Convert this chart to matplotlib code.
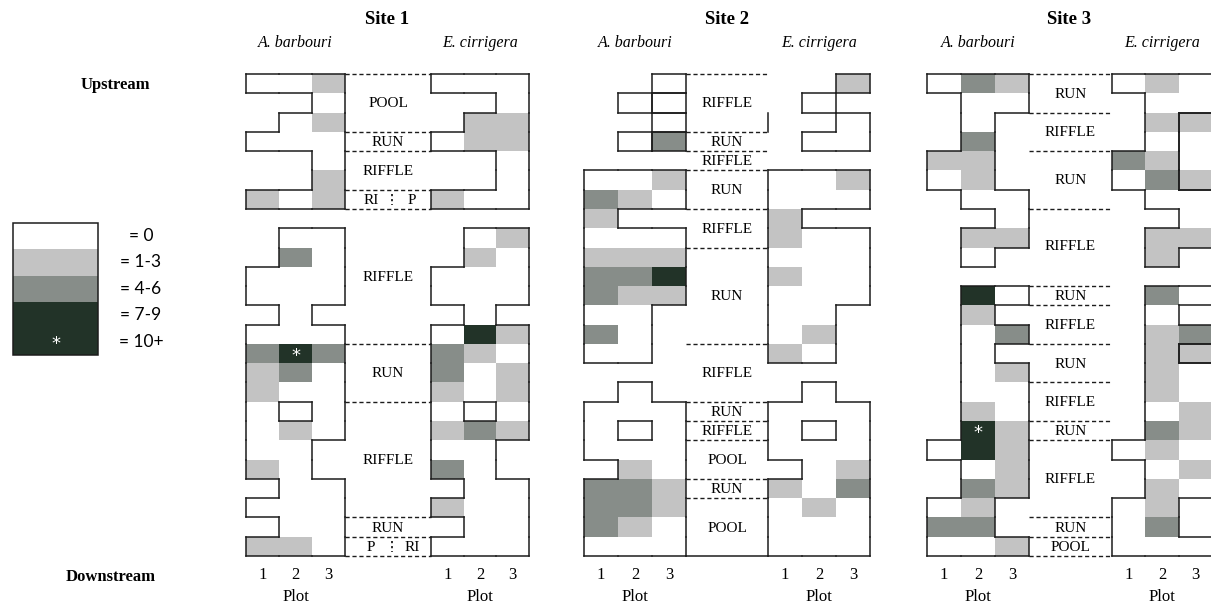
import matplotlib.pyplot as plt
from matplotlib.collections import LineCollection
from matplotlib.patches import Rectangle

SERIF = 'Liberation Serif'
INK = '#1c1c1c'

# abundance classes and their shading
LEVELS = ['= 0', '= 1-3', '= 4-6', '= 7-9', '= 10+']
COLORS = ['#ffffff', '#c3c3c3', '#878d89', '#223328', '#223328']

# one string per transect row (upstream -> downstream), one char per plot 1..3
# '.' = no plot surveyed, digit = abundance class index,
# letter a..e = same classes 0..4 but fenced off from the neighbouring plots
site1_barbouri = ['001', '..0', '.01', '000', '..0', '..1', '101', '...',
                  '.00', '.20', '000', '000', '.0.', '000', '242', '120',
                  '100', '0.0', '010', '00.', '10.', '.00', '000', '.00', '110']
site1_cirrigera = ['000', '..0', '.11', '011', '..0', '..0', '100', '...',
                   '.01', '.10', '000', '000', '.0.', '031', '210', '201',
                   '101', '0.0', '121', '00.', '20.', '.00', '100', '.00', '000']
site2_barbouri = ['..0', '.00', '..0', '.02', '...', '001', '210', '1..',
                  '000', '111', '223', '211', '00.', '20.', '00.', '...',
                  '.0.', '000', '0.0', '000', '.10', '221', '221', '210', '000']
site2_cirrigera = ['..1', '.0.', '..0', '.00', '...', '001', '000', '1..',
                   '100', '000', '100', '000', '00.', '01.', '10.', '...',
                   '.0.', '000', '0.0', '000', '.01', '102', '010', '000', '000']
site3_barbouri = ['021', '.00', '.0.', '.2.', '11.', '01.', '.00', '..0',
                  '.11', '.0.', '...', '.30', '.1.', '.02', '.0.', '.01',
                  '.00', '.10', '.41', '031', '.01', '.21', '01.', '22.', '001']
site3_cirrigera = ['010', '.00', '.1b', '.0a', '21a', '02b', '.00', '..0',
                   '.11', '.1.', '...', '.20', '.0.', '.12', '.1b', '.10',
                   '.10', '.01', '.21', '010', '.01', '.10', '01.', '02.', '000']

# habitat units along the channel: (row position, label)
site1_habitat = [(1.5, 'POOL'), (3.5, 'RUN'), (5.0, 'RIFFLE'), (10.5, 'RIFFLE'),
                 (15.5, 'RUN'), (20.0, 'RIFFLE'), (23.5, 'RUN')]
site1_split = [(6.5, 'RI', 'P'), (24.5, 'P', 'RI')]
site1_breaks = [0, 3, 4, 6, 7, 14, 17, 23, 24, 25]

site2_habitat = [(1.5, 'RIFFLE'), (3.5, 'RUN'), (4.5, 'RIFFLE'), (6.0, 'RUN'),
                 (8.0, 'RIFFLE'), (11.5, 'RUN'), (15.5, 'RIFFLE'), (17.5, 'RUN'),
                 (18.5, 'RIFFLE'), (20.0, 'POOL'), (21.5, 'RUN'), (23.5, 'POOL')]
site2_breaks = [0, 3, 4, 5, 7, 9, 14, 17, 18, 19, 21, 22]

site3_habitat = [(1.0, 'RUN'), (3.0, 'RIFFLE'), (5.45, 'RUN'), (8.9, 'RIFFLE'),
                 (11.5, 'RUN'), (13.0, 'RIFFLE'), (15.0, 'RUN'), (17.0, 'RIFFLE'),
                 (18.5, 'RUN'), (21.0, 'RIFFLE'), (23.5, 'RUN'), (24.5, 'POOL')]
site3_breaks = [0, 2, 4, 7, 11, 12, 14, 16, 18, 19, 23, 24, 25]

# layout (pixels)
ROW0, RH = 74.0, 19.28


def row_y(r):
    return ROW0 + r * RH


def cell(grid, r, c):
    if 0 <= r < len(grid) and 0 <= c < 3:
        return grid[r][c]
    return '.'


def region(ch):
    if ch == '.':
        return None
    return 'main' if ch.isdigit() else 'fenced'


def level(ch):
    return int(ch) if ch.isdigit() else 'abcde'.index(ch)


def draw_panel(ax, grid, x0, cw, boxed=()):
    segs = []
    for r, row in enumerate(grid):
        for c, ch in enumerate(row):
            if ch == '.':
                continue
            v = level(ch)
            x, y = x0 + c * cw, row_y(r)
            ax.add_patch(Rectangle((x, y), cw, RH, facecolor=COLORS[v],
                                   edgecolor='none'))
            if v == 4:
                ax.text(x + cw / 2, y + RH / 2 + 2, '*', color='white', ha='center',
                        va='center', fontsize=13, fontfamily='DejaVu Sans')
            full = r in boxed
            me = region(ch)
            if full or region(cell(grid, r - 1, c)) != me:
                segs.append([(x, y), (x + cw, y)])
            if full or region(cell(grid, r + 1, c)) != me:
                segs.append([(x, y + RH), (x + cw, y + RH)])
            if full or region(cell(grid, r, c - 1)) != me:
                segs.append([(x, y), (x, y + RH)])
            if full or region(cell(grid, r, c + 1)) != me:
                segs.append([(x + cw, y), (x + cw, y + RH)])
    ax.add_collection(LineCollection(segs, colors=INK, linewidths=1.1,
                                     capstyle='projecting'))
    for c in range(3):
        ax.text(x0 + (c + 0.5) * cw, 575, str(c + 1), ha='center', va='center',
                fontsize=12, fontfamily=SERIF)
    ax.text(x0 + 1.5 * cw, 597, 'Plot', ha='center', va='center', fontsize=12,
            fontfamily=SERIF)


def draw_channel(ax, xa, xb, breaks, labels, split=()):
    for r in breaks:
        ax.plot([xa, xb], [row_y(r), row_y(r)], color=INK, lw=1.0, ls=(0, (3, 2)))
    xm = (xa + xb) / 2
    for r, txt in labels:
        ax.text(xm, row_y(r) + 1, txt, ha='center', va='center', fontsize=11,
                fontfamily=SERIF)
    for r, left, right in split:
        xs = xm + 4
        ax.plot([xs, xs], [row_y(r - 0.5) + 4, row_y(r + 0.5) - 4], color=INK,
                lw=1.3, ls=(0, (1.2, 1.6)))
        ax.text(xs - 21, row_y(r) + 1, left, ha='center', va='center', fontsize=11,
                fontfamily=SERIF)
        ax.text(xs + 20, row_y(r) + 1, right, ha='center', va='center', fontsize=11,
                fontfamily=SERIF)


fig = plt.figure(figsize=(12.11, 6.05), dpi=100)
ax = fig.add_axes([0, 0, 1, 1])
ax.set_xlim(0, 1211)
ax.set_ylim(605, 0)
ax.axis('off')

sites = [
    ('Site 1', site1_barbouri, site1_cirrigera, (246, 33.0), (431, 32.7),
     site1_breaks, site1_habitat, site1_split, ()),
    ('Site 2', site2_barbouri, site2_cirrigera, (584, 34.0), (768, 34.0),
     site2_breaks, site2_habitat, (), (0, 1, 2, 3)),
    ('Site 3', site3_barbouri, site3_cirrigera, (927, 34.0), (1112, 33.3),
     site3_breaks, site3_habitat, (), ()),
]

for name, ab, ec, (xa, cwa), (xe, cwe), breaks, hab, split, boxed in sites:
    draw_panel(ax, ab, xa, cwa, boxed)
    draw_panel(ax, ec, xe, cwe)
    draw_channel(ax, xa + 3 * cwa, xe, breaks, hab, split)
    ax.text((xa + xe + 3 * cwe) / 2, 20, name, ha='center', va='center',
            fontsize=13.5, fontweight='bold', fontfamily=SERIF)
    ax.text(xa + 1.5 * cwa, 43, 'A. barbouri', ha='center', va='center',
            fontsize=11.5, fontstyle='italic', fontfamily=SERIF)
    ax.text(xe + 1.5 * cwe, 43, 'E. cirrigera', ha='center', va='center',
            fontsize=11.5, fontstyle='italic', fontfamily=SERIF)
    if name == 'Site 2':
        # bottom of the pool reach is closed off and a short bank line near the top
        ax.plot([xa + 3 * cwa, xe], [row_y(25), row_y(25)], color=INK, lw=1.1)
        ax.plot([xe, xe], [row_y(2), row_y(3)], color=INK, lw=1.1)

ax.text(115, 85, 'Upstream', ha='center', va='center', fontsize=12,
        fontweight='bold', fontfamily=SERIF)
ax.text(111, 577, 'Downstream', ha='center', va='center', fontsize=12,
        fontweight='bold', fontfamily=SERIF)

# legend key
lx, ly, lw_, lh = 12.7, 222.7, 85.6, 26.5
for i, lab in enumerate(LEVELS):
    ax.add_patch(Rectangle((lx, ly + i * lh), lw_, lh, facecolor=COLORS[i],
                           edgecolor='none'))
    ax.text(141, ly + (i + 0.5) * lh, lab, ha='center', va='center', fontsize=12.5,
            fontfamily='Lato')
ax.add_patch(Rectangle((lx, ly), lw_, len(LEVELS) * lh, facecolor='none',
                       edgecolor=INK, lw=1.1))
ax.text(lx + lw_ / 2, ly + 4.5 * lh + 2, '*', color='white', ha='center',
        va='center', fontsize=13, fontfamily='DejaVu Sans')

fig.savefig('out.png', dpi=100, facecolor='white')
